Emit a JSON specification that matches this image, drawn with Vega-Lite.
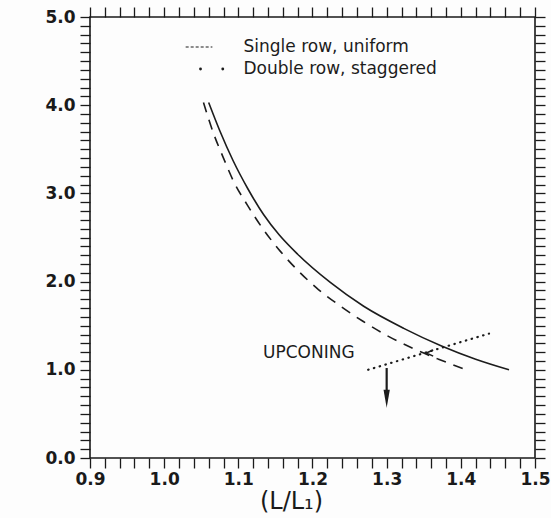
{
  "$schema": "https://vega.github.io/schema/vega-lite/v6.json",
  "width": 445,
  "height": 441,
  "autosize": "none",
  "padding": {"left": 90, "top": 17, "right": 16, "bottom": 60},
  "background": "#fdfdfd",
  "config": {
    "view": {"stroke": "#1a1a1a", "strokeWidth": 1.6},
    "font": "DejaVu Sans",
    "axis": {
      "domain": false,
      "grid": false,
      "ticks": true,
      "tickSize": 10,
      "tickColor": "#1a1a1a",
      "tickWidth": 1.3,
      "labelColor": "#1a1a1a",
      "labelFont": "DejaVu Sans",
      "labelFontSize": 17,
      "labelFontWeight": "bold",
      "labelOverlap": false,
      "labelFlush": false,
      "labelBound": false
    }
  },
  "datasets": {
    "solid": [
      {"x": 1.060, "y": 4.03}, {"x": 1.075, "y": 3.71}, {"x": 1.093, "y": 3.37},
      {"x": 1.113, "y": 3.05}, {"x": 1.134, "y": 2.76}, {"x": 1.155, "y": 2.53},
      {"x": 1.180, "y": 2.31}, {"x": 1.224, "y": 1.99}, {"x": 1.269, "y": 1.72},
      {"x": 1.323, "y": 1.47}, {"x": 1.374, "y": 1.27}, {"x": 1.420, "y": 1.12},
      {"x": 1.465, "y": 1.00}
    ],
    "dashed": [
      {"x": 1.053, "y": 4.03}, {"x": 1.067, "y": 3.67}, {"x": 1.079, "y": 3.42},
      {"x": 1.094, "y": 3.13}, {"x": 1.112, "y": 2.87}, {"x": 1.133, "y": 2.60},
      {"x": 1.157, "y": 2.34}, {"x": 1.181, "y": 2.12}, {"x": 1.208, "y": 1.91},
      {"x": 1.238, "y": 1.72}, {"x": 1.268, "y": 1.55}, {"x": 1.300, "y": 1.39},
      {"x": 1.336, "y": 1.24}, {"x": 1.370, "y": 1.12}, {"x": 1.404, "y": 1.01}
    ],
    "dotted": [{"x": 1.275, "y": 1.00}, {"x": 1.438, "y": 1.41}],
    "arrow": [{"x": 1.30, "y": 1.02, "y2": 0.70}],
    "arrowhead": [{"x": 1.30, "y": 0.672}],
    "chevron": [{"x": 1.358, "y": 1.19}],
    "legendline": [{"x": 1.029, "x2": 1.065, "y": 4.66}],
    "legenddots": [{"x": 1.049, "y": 4.41}, {"x": 1.079, "y": 4.41}],
    "legendtext": [
      {"x": 1.107, "y": 4.66, "t": "Single row, uniform"},
      {"x": 1.107, "y": 4.41, "t": "Double row, staggered"}
    ],
    "note": [{"x": 1.195, "y": 1.19, "t": "UPCONING"}]
  },
  "resolve": {"axis": {"x": "independent", "y": "independent"}},
  "layer": [
    {
      "data": {"name": "solid"},
      "mark": {"type": "line", "interpolate": "monotone", "color": "#1c1c1c", "strokeWidth": 1.6},
      "encoding": {
        "x": {
          "field": "x", "type": "quantitative",
          "scale": {"domain": [0.9, 1.5], "nice": false, "zero": false},
          "axis": {
            "orient": "bottom",
            "values": [0.9, 0.92, 0.94, 0.96, 0.98, 1.0, 1.02, 1.04, 1.06, 1.08, 1.1, 1.12, 1.14, 1.16, 1.18, 1.2, 1.22, 1.24, 1.26, 1.28, 1.3, 1.32, 1.34, 1.36, 1.38, 1.4, 1.42, 1.44, 1.46, 1.48, 1.5],
            "labelExpr": "abs(datum.value*10 - round(datum.value*10)) < 0.001 ? format(datum.value, '.1f') : ''",
            "labelPadding": 3,
            "encode": {"ticks": {"update": {"y2": {"signal": "abs(datum.value*10 - round(datum.value*10)) < 0.001 ? -11 : -6"}}}},
            "title": "(L/L₁)",
            "titleFont": "DejaVu Sans",
            "titleFontSize": 24,
            "titleFontWeight": "normal",
            "titleColor": "#1a1a1a",
            "titleX": 201,
            "titleY": 43,
            "titleBaseline": "middle"
          }
        },
        "y": {
          "field": "y", "type": "quantitative",
          "scale": {"domain": [0, 5], "nice": false, "zero": false},
          "axis": {
            "orient": "left",
            "values": [0, 0.1, 0.2, 0.3, 0.4, 0.5, 0.6, 0.7, 0.8, 0.9, 1, 1.1, 1.2, 1.3, 1.4, 1.5, 1.6, 1.7, 1.8, 1.9, 2, 2.1, 2.2, 2.3, 2.4, 2.5, 2.6, 2.7, 2.8, 2.9, 3, 3.1, 3.2, 3.3, 3.4, 3.5, 3.6, 3.7, 3.8, 3.9, 4, 4.1, 4.2, 4.3, 4.4, 4.5, 4.6, 4.7, 4.8, 4.9, 5],
            "labelExpr": "abs(datum.value - round(datum.value)) < 0.001 ? format(datum.value, '.1f') : ''",
            "labelPadding": 5,
            "encode": {"ticks": {"update": {"x2": {"signal": "abs(datum.value - round(datum.value)) < 0.001 ? 11 : (abs(datum.value*2 - round(datum.value*2)) < 0.001 ? 7 : 4)"}}}},
            "title": null
          }
        }
      }
    },
    {
      "data": {"name": "dashed"},
      "mark": {"type": "line", "interpolate": "monotone", "color": "#1c1c1c", "strokeWidth": 1.6, "strokeDash": [10, 8]},
      "encoding": {
        "x": {
          "field": "x", "type": "quantitative",
          "scale": {"domain": [0.9, 1.5], "nice": false, "zero": false},
          "axis": {
            "orient": "top",
            "values": [0.9, 0.92, 0.94, 0.96, 0.98, 1.0, 1.02, 1.04, 1.06, 1.08, 1.1, 1.12, 1.14, 1.16, 1.18, 1.2, 1.22, 1.24, 1.26, 1.28, 1.3, 1.32, 1.34, 1.36, 1.38, 1.4, 1.42, 1.44, 1.46, 1.48, 1.5],
            "labels": false,
            "encode": {"ticks": {"update": {"y2": {"signal": "abs(datum.value*10 - round(datum.value*10)) < 0.001 ? 11 : 6"}}}},
            "title": null
          }
        },
        "y": {
          "field": "y", "type": "quantitative",
          "scale": {"domain": [0, 5], "nice": false, "zero": false},
          "axis": {
            "orient": "right",
            "values": [0, 0.1, 0.2, 0.3, 0.4, 0.5, 0.6, 0.7, 0.8, 0.9, 1, 1.1, 1.2, 1.3, 1.4, 1.5, 1.6, 1.7, 1.8, 1.9, 2, 2.1, 2.2, 2.3, 2.4, 2.5, 2.6, 2.7, 2.8, 2.9, 3, 3.1, 3.2, 3.3, 3.4, 3.5, 3.6, 3.7, 3.8, 3.9, 4, 4.1, 4.2, 4.3, 4.4, 4.5, 4.6, 4.7, 4.8, 4.9, 5],
            "labels": false,
            "encode": {"ticks": {"update": {"x2": {"signal": "abs(datum.value - round(datum.value)) < 0.001 ? -11 : (abs(datum.value*2 - round(datum.value*2)) < 0.001 ? -7 : -4)"}}}},
            "title": null
          }
        }
      }
    },
    {
      "data": {"name": "dotted"},
      "mark": {"type": "line", "color": "#1c1c1c", "strokeWidth": 2.2, "strokeCap": "round", "strokeDash": [0.5, 5.5]},
      "encoding": {
        "x": {"field": "x", "type": "quantitative", "scale": {"domain": [0.9, 1.5], "nice": false, "zero": false}, "axis": null},
        "y": {"field": "y", "type": "quantitative", "scale": {"domain": [0, 5], "nice": false, "zero": false}, "axis": null}
      }
    },
    {
      "data": {"name": "arrow"},
      "mark": {"type": "rule", "color": "#1c1c1c", "strokeWidth": 2.2},
      "encoding": {
        "x": {"field": "x", "type": "quantitative", "scale": {"domain": [0.9, 1.5], "nice": false, "zero": false}, "axis": null},
        "y": {"field": "y", "type": "quantitative", "scale": {"domain": [0, 5], "nice": false, "zero": false}, "axis": null},
        "y2": {"field": "y2"}
      }
    },
    {
      "data": {"name": "arrowhead"},
      "mark": {"type": "point", "shape": "M-0.35,-1L0.35,-1L0,1Z", "size": 324, "filled": true, "color": "#1c1c1c", "opacity": 1},
      "encoding": {
        "x": {"field": "x", "type": "quantitative", "scale": {"domain": [0.9, 1.5], "nice": false, "zero": false}, "axis": null},
        "y": {"field": "y", "type": "quantitative", "scale": {"domain": [0, 5], "nice": false, "zero": false}, "axis": null}
      }
    },
    {
      "data": {"name": "chevron"},
      "mark": {"type": "point", "shape": "M0.9,-0.8L-0.9,0L0.9,0.8", "size": 60, "filled": false, "color": "#1c1c1c", "strokeWidth": 1.5, "opacity": 1},
      "encoding": {
        "x": {"field": "x", "type": "quantitative", "scale": {"domain": [0.9, 1.5], "nice": false, "zero": false}, "axis": null},
        "y": {"field": "y", "type": "quantitative", "scale": {"domain": [0, 5], "nice": false, "zero": false}, "axis": null}
      }
    },
    {
      "data": {"name": "legendline"},
      "mark": {"type": "rule", "color": "#1c1c1c", "strokeWidth": 1.2, "strokeDash": [3, 2]},
      "encoding": {
        "x": {"field": "x", "type": "quantitative", "scale": {"domain": [0.9, 1.5], "nice": false, "zero": false}, "axis": null},
        "x2": {"field": "x2"},
        "y": {"field": "y", "type": "quantitative", "scale": {"domain": [0, 5], "nice": false, "zero": false}, "axis": null}
      }
    },
    {
      "data": {"name": "legenddots"},
      "mark": {"type": "point", "shape": "circle", "size": 8, "filled": true, "color": "#1c1c1c", "opacity": 1},
      "encoding": {
        "x": {"field": "x", "type": "quantitative", "scale": {"domain": [0.9, 1.5], "nice": false, "zero": false}, "axis": null},
        "y": {"field": "y", "type": "quantitative", "scale": {"domain": [0, 5], "nice": false, "zero": false}, "axis": null}
      }
    },
    {
      "data": {"name": "legendtext"},
      "mark": {"type": "text", "align": "left", "baseline": "middle", "font": "DejaVu Sans", "fontSize": 17, "color": "#1c1c1c"},
      "encoding": {
        "x": {"field": "x", "type": "quantitative", "scale": {"domain": [0.9, 1.5], "nice": false, "zero": false}, "axis": null},
        "y": {"field": "y", "type": "quantitative", "scale": {"domain": [0, 5], "nice": false, "zero": false}, "axis": null},
        "text": {"field": "t"}
      }
    },
    {
      "data": {"name": "note"},
      "mark": {"type": "text", "align": "center", "baseline": "middle", "font": "DejaVu Sans", "fontSize": 17, "color": "#1c1c1c"},
      "encoding": {
        "x": {"field": "x", "type": "quantitative", "scale": {"domain": [0.9, 1.5], "nice": false, "zero": false}, "axis": null},
        "y": {"field": "y", "type": "quantitative", "scale": {"domain": [0, 5], "nice": false, "zero": false}, "axis": null},
        "text": {"field": "t"}
      }
    }
  ]
}
